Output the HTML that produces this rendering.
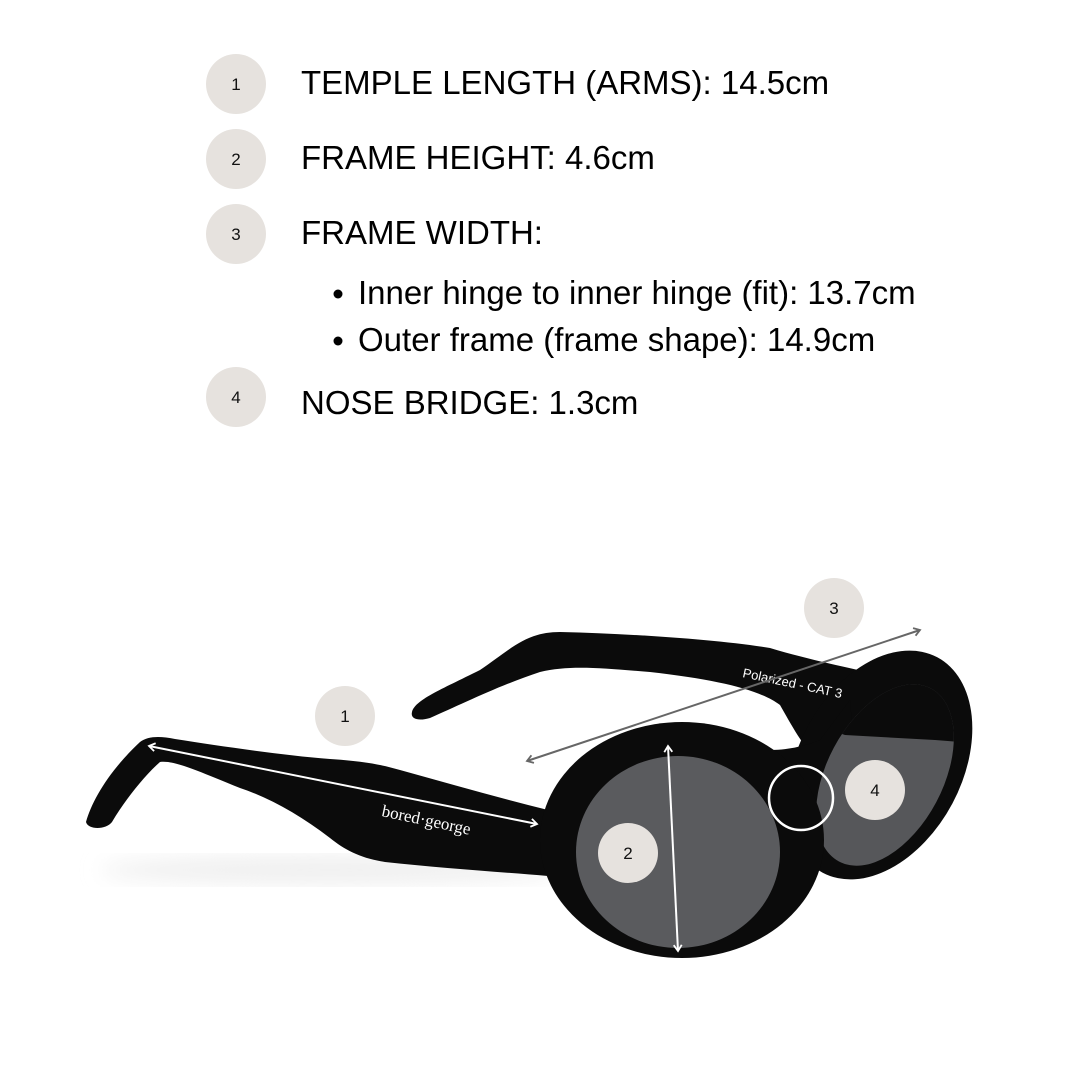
<!DOCTYPE html>
<html><head><meta charset="utf-8"><style>
html,body{margin:0;padding:0;background:#fff;}
svg{display:block;}
</style></head><body>
<svg width="1080" height="1080" viewBox="0 0 1080 1080" xmlns="http://www.w3.org/2000/svg" font-family="Liberation Sans, sans-serif">
<defs>
<marker id="aw" markerWidth="10" markerHeight="10" refX="7" refY="5" orient="auto-start-reverse" markerUnits="userSpaceOnUse"><path d="M1,1 L7,5 L1,9" fill="none" stroke="#fff" stroke-width="1.8"/></marker>
<marker id="ag" markerWidth="10" markerHeight="10" refX="7" refY="5" orient="auto-start-reverse" markerUnits="userSpaceOnUse"><path d="M1,1 L7,5 L1,9" fill="none" stroke="#666" stroke-width="1.8"/></marker>
<filter id="bl"><feGaussianBlur stdDeviation="10"/></filter>
<clipPath id="rl"><ellipse cx="885" cy="775" rx="58" ry="98" transform="rotate(28 885 775)"/></clipPath>
</defs>
<!-- legend -->
<g fill="#e6e2de">
<circle cx="236" cy="84" r="30"/><circle cx="236" cy="159" r="30"/><circle cx="236" cy="234" r="30"/><circle cx="236" cy="397" r="30"/>
</g>
<g font-size="17" fill="#111" text-anchor="middle">
<text x="236" y="90">1</text><text x="236" y="165">2</text><text x="236" y="240">3</text><text x="236" y="403">4</text>
</g>
<g font-size="33" fill="#000">
<text x="301" y="94">TEMPLE LENGTH (ARMS): 14.5cm</text>
<text x="301" y="169">FRAME HEIGHT: 4.6cm</text>
<text x="301" y="244">FRAME WIDTH:</text>
<text x="358" y="304">Inner hinge to inner hinge (fit): 13.7cm</text>
<text x="358" y="351">Outer frame (frame shape): 14.9cm</text>
<text x="301" y="414">NOSE BRIDGE: 1.3cm</text>
</g>
<circle cx="338" cy="294" r="4.5" fill="#000"/><circle cx="338" cy="341" r="4.5" fill="#000"/>

<!-- shadows -->
<ellipse cx="330" cy="870" rx="230" ry="14" fill="#efefef" filter="url(#bl)"/>

<!-- back temple -->
<path d="M412,712 C415,700 440,690 480,670 C510,650 525,632 560,632 C640,634 720,640 770,648 C810,660 850,668 880,675 L870,790 C820,780 800,740 780,705 C760,690 720,680 650,672 C600,668 570,665 540,672 C500,685 460,705 430,718 C420,721 410,720 412,712 Z" fill="#0b0b0b"/>
<!-- front temple -->
<path d="M86,822 C92,800 110,770 140,742 C148,736 160,736 175,739 C220,746 280,755 330,759 C360,761 380,764 400,770 C450,784 500,798 548,810 L548,876 C500,872 440,868 385,862 C360,858 345,850 330,838 C300,815 270,798 240,788 C200,772 175,760 160,762 C145,775 125,800 112,822 C106,830 88,830 86,822 Z" fill="#0b0b0b"/>

<!-- right lens frame -->
<ellipse cx="880" cy="765" rx="82" ry="122" fill="#0b0b0b" transform="rotate(28 880 765)"/>
<!-- bridge -->
<path d="M740,745 C770,755 800,748 820,740 L850,700 L860,820 C840,830 830,830 825,815 C822,800 815,792 805,792 C795,792 790,800 788,812 L760,820 Z" fill="#0b0b0b"/>
<!-- right lens glass -->
<g clip-path="url(#rl)">
<rect x="800" y="640" width="200" height="260" fill="#56575a"/>
<path d="M800,640 L1000,640 L1000,745 L935,740 L845,735 L800,720 Z" fill="#0b0b0b"/>
</g>
<path d="M792,830 C792,810 798,800 808,803 C815,805 818,820 820,830 Z" fill="#3e3f42"/>

<!-- left lens frame -->
<ellipse cx="682" cy="840" rx="142" ry="118" fill="#0b0b0b"/>
<ellipse cx="678" cy="852" rx="102" ry="96" fill="#5a5b5e"/>

<!-- text on frames -->
<text x="0" y="0" font-family="Liberation Serif, serif" font-size="17" fill="#fff" transform="translate(381,816) rotate(12)">bored·george</text>
<text x="0" y="0" font-size="13" fill="#fff" transform="translate(742,677) rotate(12)">Polarized - CAT 3</text>

<!-- measurement lines -->
<line x1="149" y1="746" x2="537" y2="824" stroke="#fff" stroke-width="2" marker-start="url(#aw)" marker-end="url(#aw)"/>
<line x1="668" y1="746" x2="678" y2="951" stroke="#fff" stroke-width="2" marker-start="url(#aw)" marker-end="url(#aw)"/>
<line x1="527" y1="761" x2="920" y2="630" stroke="#666" stroke-width="2" marker-start="url(#ag)" marker-end="url(#ag)"/>
<circle cx="801" cy="798" r="32" fill="none" stroke="#fff" stroke-width="2.5"/>

<!-- diagram badges -->
<g fill="#e6e2de">
<circle cx="345" cy="716" r="30"/><circle cx="628" cy="853" r="30"/><circle cx="834" cy="608" r="30"/><circle cx="875" cy="790" r="30"/>
</g>
<g font-size="17" fill="#111" text-anchor="middle">
<text x="345" y="722">1</text><text x="628" y="859">2</text><text x="834" y="614">3</text><text x="875" y="796">4</text>
</g>
</svg>
</body></html>
